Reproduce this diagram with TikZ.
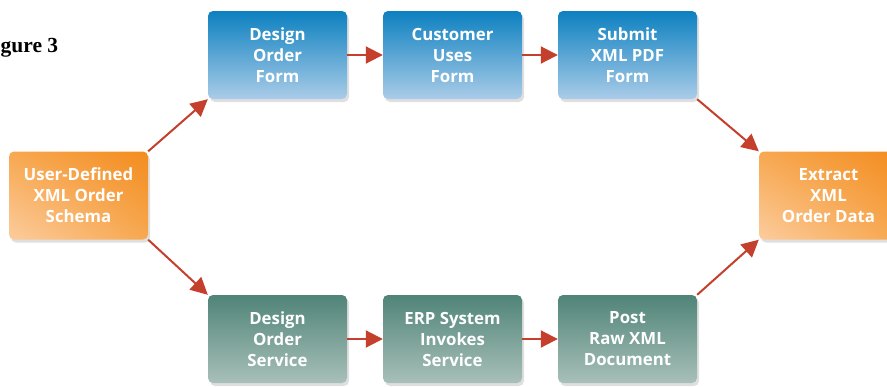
\documentclass[tikz,border=0pt]{standalone}
\usepackage{fontspec}
\setmainfont{Open Sans}
\newfontfamily\figfont{Liberation Serif}
\usetikzlibrary{arrows.meta,shadows,shadings}
\definecolor{arrowred}{RGB}{196,64,44}
\definecolor{blueTop}{RGB}{12,128,192}
\definecolor{blueBot}{RGB}{170,204,232}
\definecolor{greenTop}{RGB}{80,132,120}
\definecolor{greenBot}{RGB}{168,192,185}
\definecolor{orDark}{RGB}{243,140,30}
\definecolor{orMid}{RGB}{247,168,80}
\definecolor{orLight}{RGB}{252,204,158}
\tikzset{
  box/.style={rounded corners=5pt, minimum width=139pt, minimum height=88pt,
    inner sep=0pt, align=center, text=white,
    font=\fontsize{16.8}{21}\selectfont\bfseries,
    drop shadow={shadow xshift=2pt, shadow yshift=-3pt, opacity=0.25}},
  bluebox/.style={box, top color=blueTop, bottom color=blueBot},
  greenbox/.style={box, top color=greenTop, bottom color=greenBot},
  orangebox/.style={box, upper right=orDark, lower left=orLight, upper left=orMid, lower right=orMid},
  flow/.style={arrowred, line width=2pt, -{Triangle[length=17pt,width=17pt]}, shorten >=0pt}
}
\begin{document}
\begin{tikzpicture}[x=1pt,y=-1pt]
\useasboundingbox (0,0) rectangle (887,386);
\clip (0,0) rectangle (887,386);
\node[anchor=base west, inner sep=0pt, font=\figfont\fontsize{21.5}{24}\selectfont\bfseries] (fig) at (0.5,52) {gure 3};
\node[orangebox] (schema) at (78.5,195.5) {User-Defined\\XML Order\\Schema};
\node[bluebox] (dof) at (277.5,55) {Design\\Order\\Form};
\node[bluebox] (cuf) at (452.5,55) {Customer\\Uses\\Form};
\node[bluebox] (sub) at (627.5,55) {Submit\\XML PDF\\Form};
\node[greenbox] (dos) at (277.5,339) {Design\\Order\\Service};
\node[greenbox] (erp) at (452.5,339) {ERP System\\Invokes\\Service};
\node[greenbox] (post) at (627.5,339) {Post\\Raw XML\\Document};
\node[orangebox] (ext) at (828.5,195.5) {Extract\\XML\\Order Data};
\draw[flow] (schema.north east) -- (dof.south west);
\draw[flow] (schema.south east) -- (dos.north west);
\draw[flow] (dof) -- (cuf);
\draw[flow] (cuf) -- (sub);
\draw[flow] (dos) -- (erp);
\draw[flow] (erp) -- (post);
\draw[flow] (sub.south east) -- (ext.north west);
\draw[flow] (post.north east) -- (ext.south west);
\end{tikzpicture}
\end{document}
